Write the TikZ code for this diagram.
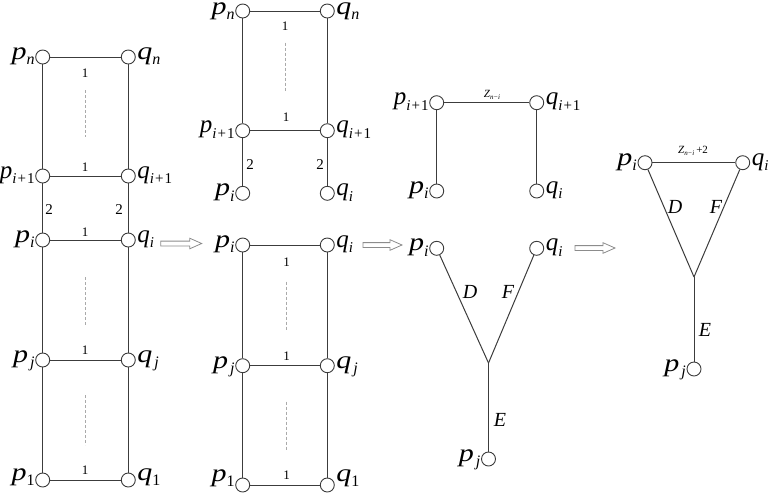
\documentclass[tikz,border=0pt]{standalone}
\usepackage{graphicx}
\usepackage{fontspec}
\setmainfont{Liberation Serif}
\definecolor{linec}{RGB}{60,60,60}
\definecolor{dashc}{RGB}{170,170,170}
\definecolor{arrc}{RGB}{140,140,140}
\newcommand\Lb[2]{\scalebox{1.2}[1]{\textit{#1}}\raisebox{-5.5pt}{\fontsize{16}{17}\selectfont #2}}
\newcommand\Ln[2]{\textit{#1}\raisebox{-5.5pt}{\fontsize{15}{16}\selectfont #2}}
\newcommand\ipo{\textit{i}\kern1pt+\kern1pt1}
\newcommand\Zni{\textit{Z}\raisebox{-2.5pt}{\fontsize{7}{8}\selectfont\textit{n}\kern0.3pt−\kern0.3pt\textit{i}}}
\newcommand\harrow[3]{%
  \draw[harr] (#1,#2-2.4) -- (#1+#3-12,#2-2.4) -- (#1+#3-12,#2-5.3) -- (#1+#3,#2)
    -- (#1+#3-12,#2+5.3) -- (#1+#3-12,#2+2.4) -- (#1,#2+2.4) -- cycle;}
\begin{document}
\begin{tikzpicture}[x=1pt,y=-1pt,
  vtx/.style={circle,draw=linec,fill=white,line width=0.9pt,minimum size=14pt,inner sep=0pt},
  edge/.style={draw=linec,line width=1pt},
  dots/.style={draw=dashc,line width=0.8pt,dash pattern=on 3pt off 2pt},
  plab/.style={anchor=mid east,inner sep=0.5pt,text height=10pt,text depth=5pt,font=\fontsize{25}{27}\selectfont},
  qlab/.style={anchor=mid west,inner sep=1.5pt,text height=10pt,text depth=5pt,font=\fontsize{25}{27}\selectfont},
  one/.style={font=\fontsize{13}{14}\selectfont,inner sep=1pt},
  two/.style={font=\fontsize{15}{16}\selectfont,inner sep=1pt},
  capl/.style={font=\fontsize{20}{22}\selectfont\itshape,inner sep=1pt},
  zlab/.style={font=\fontsize{11}{12}\selectfont,inner sep=1pt},
  harr/.style={draw=arrc,line width=0.8pt,fill=white}]
\useasboundingbox (0,0) rectangle (775,493);

% ---------- left ladder ----------
\node[vtx] (Lpn)  at (42.7,57)  {};
\node[vtx] (Lqn)  at (128.3,57) {};
\node[vtx] (Lpi1) at (42.7,176) {};
\node[vtx] (Lqi1) at (128.3,176) {};
\node[vtx] (Lpi)  at (42.7,240) {};
\node[vtx] (Lqi)  at (128.3,240) {};
\node[vtx] (Lpj)  at (42.7,360) {};
\node[vtx] (Lqj)  at (128.3,360) {};
\node[vtx] (Lp1)  at (42.7,480) {};
\node[vtx] (Lq1)  at (128.3,480) {};
\draw[edge] (Lpn) -- (Lqn);
\draw[edge] (Lpi1) -- (Lqi1);
\draw[edge] (Lpi) -- (Lqi);
\draw[edge] (Lpj) -- (Lqj);
\draw[edge] (Lp1) -- (Lq1);
\draw[edge] (Lpn) -- (Lpi1);
\draw[edge] (Lpi1) -- (Lpi);
\draw[edge] (Lpi) -- (Lpj);
\draw[edge] (Lpj) -- (Lp1);
\draw[edge] (Lqn) -- (Lqi1);
\draw[edge] (Lqi1) -- (Lqi);
\draw[edge] (Lqi) -- (Lqj);
\draw[edge] (Lqj) -- (Lq1);
\draw[dots] (85,90) -- (85,137);
\draw[dots] (85,277) -- (85,325);
\draw[dots] (85,395) -- (85,445);
\node[one] at (85,73) {1};
\node[one] at (85,167) {1};
\node[one] at (85,232) {1};
\node[one] at (85,350) {1};
\node[one] at (85,470) {1};
\node[two] at (49,210) {2};
\node[two] at (119,210) {2};
\node[plab] at (Lpn.west)  {\Lb{p}{\textit{n}}};
\node[qlab] at (Lqn.east)  {\Lb{q}{\textit{n}}};
\node[plab] at (Lpi1.west) {\Ln{p}{\ipo}};
\node[qlab] at (Lqi1.east) {\Ln{q}{\ipo}};
\node[plab] at (Lpi.west)  {\Lb{p}{\textit{i}}};
\node[qlab] at (Lqi.east)  {\Ln{q}{\textit{i}}};
\node[plab] at (Lpj.west)  {\Lb{p}{\kern2pt\textit{j}}};
\node[qlab] at (Lqj.east)  {\Lb{q}{\kern2pt\textit{j}}};
\node[plab] at ([yshift=2pt]Lp1.west)  {\Lb{p}{1}};
\node[qlab] at ([yshift=2pt]Lq1.east)  {\Lb{q}{1}};

% ---------- middle top ----------
\node[vtx] (Mpn)  at (242.7,11)    {};
\node[vtx] (Mqn)  at (327.3,11)    {};
\node[vtx] (Mpi1) at (242.7,130.7) {};
\node[vtx] (Mqi1) at (327.3,130.7) {};
\node[vtx] (Mpi)  at (242.7,193.3) {};
\node[vtx] (Mqi)  at (327.3,193.3) {};
\draw[edge] (Mpn) -- (Mqn);
\draw[edge] (Mpi1) -- (Mqi1);
\draw[edge] (Mpn) -- (Mpi1);
\draw[edge] (Mqn) -- (Mqi1);
\draw[edge] (Mpi1) -- (Mpi);
\draw[edge] (Mqi1) -- (Mqi);
\draw[dots] (285,42.7) -- (285,90.7);
\node[one] at (285,26) {1};
\node[one] at (286,117) {1};
\node[two] at (250,165) {2};
\node[two] at (320,165) {2};
\node[plab] at ([yshift=-1pt]Mpn.west)  {\Lb{p}{\textit{n}}};
\node[qlab] at ([yshift=-1pt]Mqn.east)  {\Lb{q}{\textit{n}}};
\node[plab] at (Mpi1.west) {\Ln{p}{\ipo}};
\node[qlab] at (Mqi1.east) {\Ln{q}{\ipo}};
\node[plab] at (Mpi.west)  {\Lb{p}{\textit{i}}};
\node[qlab] at (Mqi.east)  {\Ln{q}{\textit{i}}};

% ---------- middle bottom ----------
\node[vtx] (Npi) at (242.7,245)   {};
\node[vtx] (Nqi) at (327.3,245)   {};
\node[vtx] (Npj) at (242.7,365.7) {};
\node[vtx] (Nqj) at (327.3,365.7) {};
\node[vtx] (Np1) at (242.7,485)   {};
\node[vtx] (Nq1) at (327.3,485)   {};
\draw[edge] (Npi) -- (Nqi);
\draw[edge] (Npj) -- (Nqj);
\draw[edge] (Np1) -- (Nq1);
\draw[edge] (Npi) -- (Npj);
\draw[edge] (Npj) -- (Np1);
\draw[edge] (Nqi) -- (Nqj);
\draw[edge] (Nqj) -- (Nq1);
\draw[dots] (286.7,281.7) -- (286.7,330);
\draw[dots] (286.7,401.7) -- (286.7,450);
\node[one] at (286.7,262) {1};
\node[one] at (286.7,356) {1};
\node[one] at (286.7,475) {1};
\node[plab] at (Npi.west) {\Lb{p}{\textit{i}}};
\node[qlab] at (Nqi.east) {\Ln{q}{\textit{i}}};
\node[plab] at (Npj.west) {\Lb{p}{\kern2pt\textit{j}}};
\node[qlab] at (Nqj.east) {\Lb{q}{\kern2pt\textit{j}}};
\node[plab] at ([yshift=6pt]Np1.west) {\Lb{p}{1}};
\node[qlab] at ([yshift=6pt]Nq1.east) {\Lb{q}{1}};

% ---------- third top ----------
\node[vtx] (Tpi1) at (436.7,102.7) {};
\node[vtx] (Tqi1) at (536.7,102.7) {};
\node[vtx] (Tpi)  at (436.7,191)   {};
\node[vtx] (Tqi)  at (536.7,191)   {};
\draw[edge] (Tpi1) -- (Tqi1);
\draw[edge] (Tpi1) -- (Tpi);
\draw[edge] (Tqi1) -- (Tqi);
\node[zlab] at (492,95) {\Zni};
\node[plab] at (Tpi1.west) {\Ln{p}{\ipo}};
\node[qlab] at (Tqi1.east) {\Ln{q}{\ipo}};
\node[plab] at (Tpi.west)  {\Lb{p}{\textit{i}}};
\node[qlab] at (Tqi.east)  {\Ln{q}{\textit{i}}};

% ---------- third bottom ----------
\node[vtx] (Upi) at (436.7,248.3) {};
\node[vtx] (Uqi) at (536.7,248.3) {};
\coordinate (Uc) at (488.5,363);
\node[vtx] (Upj) at (488.5,459) {};
\draw[edge] (Upi) -- (Uc);
\draw[edge] (Uqi) -- (Uc);
\draw[edge] (Uc) -- (Upj);
\node[capl] at (470,292) {D};
\node[capl] at (508,292) {F};
\node[capl] at (500,420) {E};
\node[plab] at (Upi.west) {\Lb{p}{\textit{i}}};
\node[qlab] at (Uqi.east) {\Ln{q}{\textit{i}}};
\node[plab] at (Upj.west) {\Lb{p}{\kern2pt\textit{j}}};

% ---------- fourth ----------
\node[vtx] (Vpi) at (645,162.7)   {};
\node[vtx] (Vqi) at (742.7,162.7) {};
\coordinate (Vc) at (694,277);
\node[vtx] (Vpj) at (694,369) {};
\draw[edge] (Vpi) -- (Vqi);
\draw[edge] (Vpi) -- (Vc);
\draw[edge] (Vqi) -- (Vc);
\draw[edge] (Vc) -- (Vpj);
\node[zlab] at (693,151) {\Zni\kern2pt+2};
\node[capl] at (675,207) {D};
\node[capl] at (716,207) {F};
\node[capl] at (705,330) {E};
\node[plab] at (Vpi.west) {\Lb{p}{\textit{i}}};
\node[qlab] at (Vqi.east) {\Ln{q}{\textit{i}}};
\node[plab] at (Vpj.west) {\Lb{p}{\kern2pt\textit{j}}};

% ---------- hollow arrows ----------
\harrow{160.7}{243.5}{41}
\harrow{363}{245}{39}
\harrow{575}{248}{40}
\end{tikzpicture}
\end{document}
